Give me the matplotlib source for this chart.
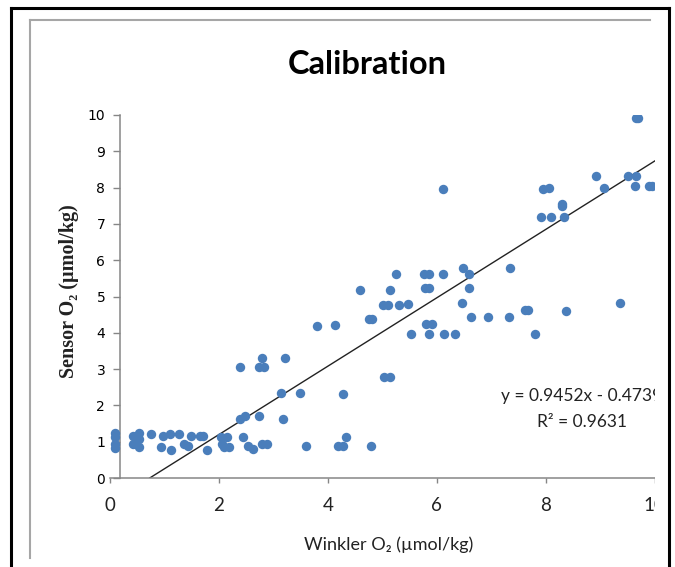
import numpy as np
import matplotlib
matplotlib.use("Agg")
import matplotlib.pyplot as plt
from matplotlib.lines import Line2D
from matplotlib.patches import Rectangle

# Dados (Winkler x Sensor, umol/kg)
winkler = [0.09, 0.09, 0.09, 0.09, 0.43, 0.43, 0.54, 0.54, 0.54,
           0.75, 0.93, 0.98, 1.11, 1.12, 1.27, 1.35, 1.44, 1.48, 1.65, 1.71,
           1.79, 2.03, 2.14, 2.05, 2.09, 2.18,
           2.39, 2.80, 2.73, 2.82, 3.22, 3.14, 3.49, 2.39, 2.48, 2.74, 3.18,
           2.44, 2.53, 2.62, 2.80, 2.88, 3.60, 3.80,
           4.13, 4.18, 4.28, 4.33, 4.27, 4.80, 5.04, 5.15, 4.75, 4.81,
           5.02, 5.10, 5.31, 5.47, 6.46, 9.36, 5.80, 5.91, 6.63, 6.95, 7.32,
           7.63, 7.68, 8.37, 5.52, 5.85, 6.14, 6.33, 7.81,
           4.59, 5.14, 5.79, 5.85, 6.60, 5.26, 5.77, 5.85, 6.12, 6.60, 6.49,
           7.35, 7.91, 8.10, 8.33, 8.31, 8.31, 7.96, 8.07, 6.12, 8.93, 9.51,
           9.66, 9.07, 9.65, 9.90, 9.95, 9.69, 9.66]
sensor = [1.23, 1.14, 0.95, 0.82, 1.17, 0.95, 1.25, 1.07, 0.86,
          1.21, 0.86, 1.17, 1.21, 0.77, 1.21, 0.95, 0.88, 1.17, 1.17, 1.17,
          0.77, 1.14, 1.14, 0.95, 0.86, 0.86,
          3.07, 3.31, 3.07, 3.07, 3.30, 2.33, 2.33, 1.63, 1.72, 1.72, 1.62,
          1.14, 0.89, 0.80, 0.95, 0.95, 0.88, 4.20,
          4.21, 0.88, 0.88, 1.12, 2.31, 0.88, 2.79, 2.79, 4.38, 4.38,
          4.76, 4.76, 4.76, 4.79, 4.81, 4.81, 4.25, 4.25, 4.43, 4.43, 4.43,
          4.63, 4.63, 4.61, 3.97, 3.97, 3.97, 3.97, 3.97,
          5.18, 5.18, 5.23, 5.23, 5.23, 5.61, 5.61, 5.61, 5.61, 5.61, 5.79,
          5.79, 7.20, 7.20, 7.20, 7.55, 7.49, 7.95, 8.00, 7.95, 8.32, 8.32,
          8.32, 8.00, 8.04, 8.04, 8.04, 9.91, 9.93]

# reta de tendencia como aparece desenhada
trend_slope = 0.9416
trend_icpt = -0.687
eq_text = "y = 0.9452x - 0.4739"
r2_text = "R\u00b2 = 0.9631"

xticks = [0, 2, 4, 6, 8, 10]
yticks = list(range(0, 11))

AZUL = "#4A7EBB"
EIXO = "#868686"
TXT = "#222222"
FONTE = ["Lato", "DejaVu Sans"]

W, H = 675, 567
def fx(px): return px / W
def fy(py): return 1 - py / H

fig = plt.figure(figsize=(6.75, 5.67), dpi=100)
ax = fig.add_axes([fx(110), fy(478), 544.5 / W, 363 / H])

ax.scatter(winkler, sensor, s=46, color=AZUL, linewidths=0, zorder=3)

xx = np.array([-trend_icpt / trend_slope, 10.5])
ax.plot(xx, trend_slope * xx + trend_icpt, color="#222222", lw=1.0, zorder=2)

ax.set_xlim(0, 10)
ax.set_ylim(0, 10)
ax.set_xticks(xticks)
ax.set_yticks(yticks)
ax.set_xticklabels([str(t) for t in xticks], family=FONTE, fontsize=13.5, color=TXT)
ax.set_yticklabels([str(t) for t in yticks], family=FONTE, fontsize=12.5, color=TXT)
ax.tick_params(axis="x", direction="out", length=3.6, width=1.0, color=EIXO, pad=10)
ax.tick_params(axis="y", direction="out", length=5, width=1.0, color=EIXO, pad=5.5)

for s in ["top", "right"]:
    ax.spines[s].set_visible(False)
ax.spines["left"].set_position(("data", 0.18))
ax.spines["left"].set_color(EIXO)
ax.spines["bottom"].set_color(EIXO)
ax.spines["left"].set_linewidth(1.1)
ax.spines["bottom"].set_linewidth(1.1)

# Equacao da reta (cortada na borda direita)
x_eq = 8.67
ax.text(x_eq, 2.26, eq_text, ha="center", va="center", family=FONTE,
        fontsize=12.5, color=TXT, clip_on=True)
ax.text(x_eq, 1.55, r2_text, ha="center", va="center", family=FONTE,
        fontsize=12.5, color=TXT, clip_on=True)

# Titulos
fig.text(fx(367.5), fy(64), "Calibration", ha="center", va="center",
         family=FONTE, fontsize=23.5, fontweight="bold", color="black")
fig.text(fx(389), fy(545), "Winkler O\u2082 (\u00b5mol/kg)", ha="center", va="center",
         family=FONTE, fontsize=13, color=TXT)
fig.text(fx(69), fy(291), "Sensor O\u2082 (\u00b5mol/kg)", ha="center", va="center",
         rotation=90, family=["Liberation Serif", "DejaVu Serif"], fontsize=14.5,
         fontweight="bold", color=TXT)

# corte da imagem original na direita
fig.patches.append(Rectangle((fx(655), 0), fx(667) - fx(655), 1,
                             transform=fig.transFigure, facecolor="white",
                             edgecolor="none", zorder=10))

# molduras
fig.add_artist(Line2D([fx(30.5), fx(30.5)], [fy(558), fy(20)], color="#a6a6a6",
                      lw=1.5, transform=fig.transFigure, zorder=11))
fig.add_artist(Line2D([fx(30.5), fx(650)], [fy(20), fy(20)], color="#a6a6a6",
                      lw=1.5, transform=fig.transFigure, zorder=11))
fig.add_artist(Line2D([fx(10.5), fx(10.5)], [0, fy(7.5)], color="black",
                      lw=2.2, transform=fig.transFigure, zorder=12))
fig.add_artist(Line2D([fx(10.5), fx(668.5)], [fy(7.5), fy(7.5)], color="black",
                      lw=2.2, transform=fig.transFigure, zorder=12))
fig.add_artist(Line2D([fx(668.5), fx(668.5)], [fy(7.5), 0], color="black",
                      lw=2.2, transform=fig.transFigure, zorder=12))

fig.savefig("out.png", dpi=100, facecolor="white")
